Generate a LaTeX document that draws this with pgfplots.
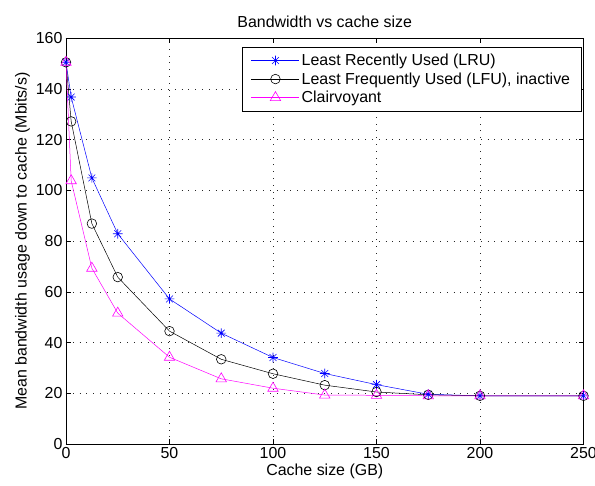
\documentclass[border=0pt]{standalone}
\usepackage{fontspec}
\setmainfont{Liberation Sans}
\usepackage{pgfplots}
\pgfplotsset{compat=1.18}

% MATLAB-style asterisk: plus and cross combined
\pgfdeclareplotmark{mstar}{%
  \pgfpathmoveto{\pgfqpoint{0pt}{\pgfplotmarksize}}%
  \pgfpathlineto{\pgfqpoint{0pt}{-\pgfplotmarksize}}%
  \pgfpathmoveto{\pgfqpoint{\pgfplotmarksize}{0pt}}%
  \pgfpathlineto{\pgfqpoint{-\pgfplotmarksize}{0pt}}%
  \pgfpathmoveto{\pgfqpoint{.707\pgfplotmarksize}{.707\pgfplotmarksize}}%
  \pgfpathlineto{\pgfqpoint{-.707\pgfplotmarksize}{-.707\pgfplotmarksize}}%
  \pgfpathmoveto{\pgfqpoint{.707\pgfplotmarksize}{-.707\pgfplotmarksize}}%
  \pgfpathlineto{\pgfqpoint{-.707\pgfplotmarksize}{.707\pgfplotmarksize}}%
  \pgfusepathqstroke}

\definecolor{mblue}{rgb}{0,0,1}
\definecolor{mmag}{rgb}{1,0,1}

\begin{document}
\begin{tikzpicture}
\useasboundingbox (-66bp,-42bp) rectangle (529bp,444bp);
\begin{axis}[
  scale only axis,
  width=517.5bp, height=405.8bp,
  xmin=0, xmax=250, ymin=0, ymax=160,
  xtick={0,50,...,250}, ytick={0,20,...,160},
  /pgf/number format/assume math mode=true,
  tick label style={font=\fontsize{16}{19}\selectfont},
  label style={font=\fontsize{16}{19}\selectfont},
  title style={font=\fontsize{16}{19}\selectfont, yshift=1bp},
  title={Bandwidth vs cache size},
  xlabel={Cache size (GB)},
  ylabel={Mean bandwidth usage down to cache (Mbits/s)},
  xlabel style={yshift=2bp},
  ylabel style={yshift=-1bp},
  grid=major,
  major grid style={black!85, line width=0.6pt, dash pattern=on 0.8bp off 6bp},
  tick align=inside,
  major tick length=5bp,
  axis line style={line width=0.6pt},
  every tick/.style={black, line width=0.6pt},
  legend style={
    at={(0.996,0.979)}, anchor=north east,
    draw=black, line width=0.6pt, fill=white,
    font=\fontsize{16}{19}\selectfont,
    cells={anchor=west},
    row sep=1.5bp, inner xsep=9bp, inner ysep=5bp,
  },
  legend image code/.code={%
    \draw[mark repeat=2, mark phase=2, #1] plot coordinates {(0bp,0bp) (24bp,0bp) (48bp,0bp)};},
]
\addplot[mblue, line width=0.5pt, mark=mstar, mark size=4.8bp, mark options={line width=0.6pt}]
  coordinates {(0,150.5) (2.5,136.8) (12.5,104.9) (25,82.9) (50,57.2) (75,43.7)
               (100,34.1) (125,27.8) (150,23.4) (175,19.6) (200,19.0) (250,19.0)};
\addlegendentry{Least Recently Used (LRU)}
\addplot[black, line width=0.5pt, mark=o, mark size=4.8bp, mark options={line width=0.6pt}]
  coordinates {(0,150.5) (2.5,127.2) (12.5,86.9) (25,65.8) (50,44.5) (75,33.4)
               (100,27.7) (125,23.2) (150,20.5) (175,19.4) (200,19.0) (250,19.0)};
\addlegendentry{Least Frequently Used (LFU), inactive}
\addplot[mmag, line width=0.5pt, mark=triangle, mark size=6bp, mark options={line width=0.6pt}]
  coordinates {(0,150.5) (2.5,103.8) (12.5,69.3) (25,51.6) (50,34.2) (75,25.7)
               (100,22.0) (125,19.3) (150,19.2) (175,19.0) (200,19.0) (250,19.0)};
\addlegendentry{Clairvoyant}
\end{axis}
\end{tikzpicture}
\end{document}
